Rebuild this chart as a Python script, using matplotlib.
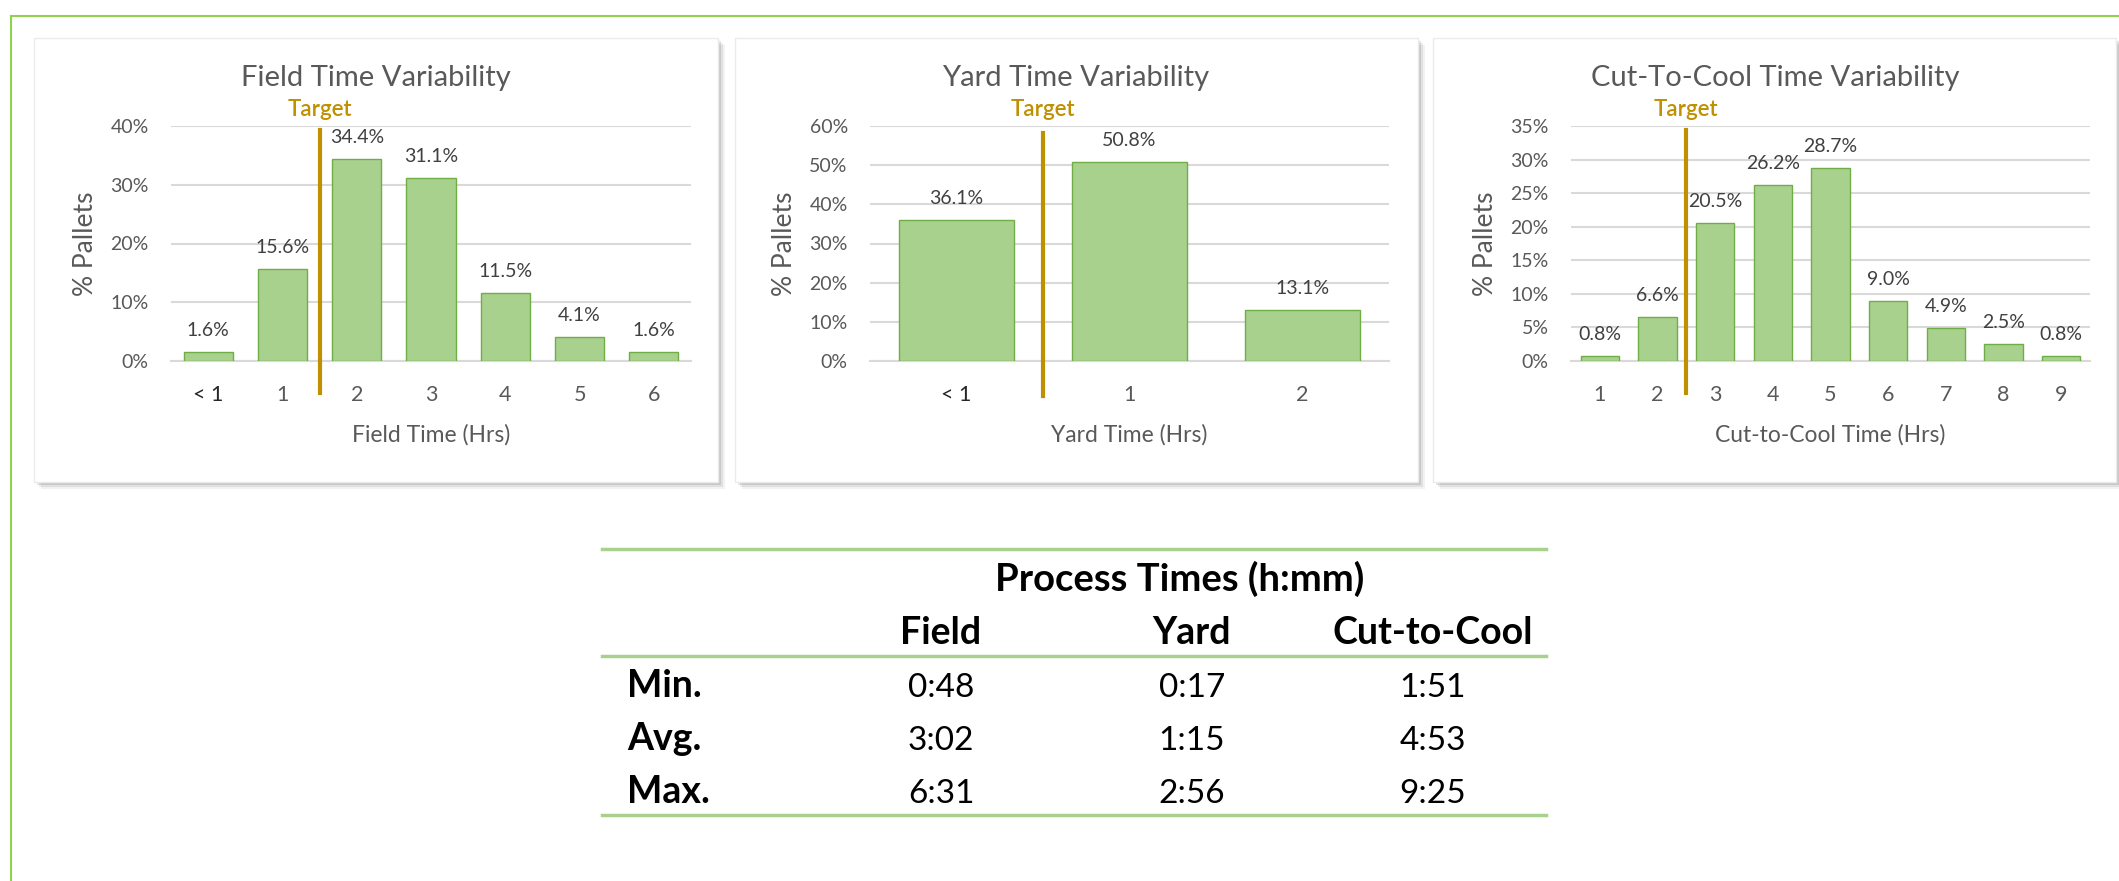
import matplotlib
matplotlib.use('Agg')
import matplotlib.pyplot as plt
from matplotlib.patches import Rectangle
from matplotlib.lines import Line2D

plt.rcParams['font.family'] = ['Lato', 'DejaVu Sans']

# --- data ---
field_cats = ['< 1', '1', '2', '3', '4', '5', '6']
field_pct = [1.6, 15.6, 34.4, 31.1, 11.5, 4.1, 1.6]
field_target = 1.5   # between "1" and "2"

yard_cats = ['< 1', '1', '2']
yard_pct = [36.1, 50.8, 13.1]
yard_target = 0.5

cool_cats = ['1', '2', '3', '4', '5', '6', '7', '8', '9']
cool_pct = [0.8, 6.6, 20.5, 26.2, 28.7, 9.0, 4.9, 2.5, 0.8]
cool_target = 1.5

# process time table (h:mm)
row_names = ['Min.', 'Avg.', 'Max.']
col_names = ['Field', 'Yard', 'Cut-to-Cool']
field_times = ['0:48', '3:02', '6:31']
yard_times = ['0:17', '1:15', '2:56']
cool_times = ['1:51', '4:53', '9:25']

# --- colours ---
BAR = '#A9D18E'
BAR_EDGE = '#70AD47'
TARGET = '#BF9000'
GRID = '#D9D9D9'
TXT = '#595959'
BORDER = '#92D050'

W, H = 2119, 881
fig = plt.figure(figsize=(W / 100, H / 100), dpi=100)
fig.patch.set_facecolor('white')


def fx(x):
    return x / W


def fy(y):
    return 1 - y / H


# green frame round everything (runs off the right / bottom edge)
fig.add_artist(Line2D([fx(11), fx(11)], [fy(16), 0], color=BORDER, lw=1.5))
fig.add_artist(Line2D([fx(11), 1], [fy(16), fy(16)], color=BORDER, lw=1.5))


def panel(x0, x1, y0=38, y1=482):
    # soft drop shadow, then white card
    for d, a in [(7, 0.05), (5, 0.07), (3, 0.10)]:
        fig.add_artist(Rectangle((fx(x0 + d), fy(y1 + d)), fx(x1 - x0), (y1 - y0) / H,
                                 facecolor='black', alpha=a, edgecolor='none', zorder=-5))
    fig.add_artist(Rectangle((fx(x0), fy(y1)), fx(x1 - x0), (y1 - y0) / H,
                             facecolor='white', edgecolor='#EBEBEB', lw=1, zorder=-4))


def chart(ax_x0, ax_x1, cats, pct, top, step, target, t_lo, t_hi, title, title_x, xlabel):
    ax = fig.add_axes([fx(ax_x0), fy(361), fx(ax_x1 - ax_x0), 235 / H])
    ax.set_facecolor('none')
    n = len(cats)
    x = list(range(n))
    ax.bar(x, pct, width=0.66, color=BAR, edgecolor=BAR_EDGE, linewidth=1, zorder=3)
    for i, v in enumerate(pct):
        ax.annotate(f'{v:.1f}%', (i, v), xytext=(0, 11.5), textcoords='offset points',
                    ha='center', va='baseline', fontsize=14, color='#404040', zorder=5)
    ax.set_xlim(-0.5, n - 0.5)
    ax.set_ylim(0, top)
    ticks = list(range(0, top + 1, step))
    ax.set_yticks(ticks)
    ax.set_yticklabels([f'{t}%' for t in ticks])
    ax.set_xticks(x)
    ax.set_xticklabels(cats)
    ax.yaxis.grid(True, color=GRID, lw=1.5)
    ax.set_axisbelow(True)
    for s in ['top', 'right', 'left']:
        ax.spines[s].set_visible(False)
    ax.spines['bottom'].set_color(GRID)
    ax.spines['bottom'].set_linewidth(1.5)
    ax.tick_params(axis='y', length=0, labelsize=14, colors=TXT, pad=16)
    ax.tick_params(axis='x', length=0, labelsize=15.5, colors=TXT, pad=17)
    for lab in ax.get_xticklabels():
        if lab.get_text().startswith('<'):
            lab.set_color('#262626')

    # target marker line sticks out above and below the plot
    ax.axvline(target, ymin=t_lo, ymax=t_hi, color=TARGET, lw=3, clip_on=False, zorder=4)
    ax.text(target, 1.043, 'Target', transform=ax.get_xaxis_transform(), ha='center',
            va='baseline', fontsize=16, color=TARGET, fontweight='semibold')

    ax.set_ylabel('% Pallets', fontsize=19, color=TXT)
    ax.yaxis.set_label_coords(-0.14, 0.5)
    ax.set_xlabel(xlabel, fontsize=16.5, color=TXT)
    ax.xaxis.set_label_coords(0.5, -0.27)
    fig.text(fx(title_x), fy(86), title, ha='center', va='baseline', fontsize=21, color=TXT)
    return ax


panel(34, 718)
panel(735, 1418)
panel(1433, 2116)

chart(171, 691, field_cats, field_pct, 40, 10, field_target, -0.136, 0.983,
      'Field Time Variability', 376, 'Field Time (Hrs)')
chart(870, 1389, yard_cats, yard_pct, 60, 10, yard_target, -0.149, 0.970,
      'Yard Time Variability', 1076, 'Yard Time (Hrs)')
chart(1571, 2090, cool_cats, cool_pct, 35, 5, cool_target, -0.136, 0.983,
      'Cut-To-Cool Time Variability', 1775, 'Cut-to-Cool Time (Hrs)')

# --- summary table under the charts ---
for y in [549, 656, 815]:
    fig.add_artist(Line2D([fx(602), fx(1546)], [fy(y), fy(y)], color=BAR, lw=2.5))

fig.text(fx(1180), fy(591), 'Process Times (h:mm)', ha='center', va='baseline',
         fontsize=27.5, fontweight='bold', color='black')
col_x = [941, 1192, 1433]
for cx, name in zip(col_x, col_names):
    fig.text(fx(cx), fy(644), name, ha='center', va='baseline', fontsize=27,
             fontweight='bold', color='black')

row_y = [697, 750, 803]
columns = [field_times, yard_times, cool_times]
for r, (ry, name) in enumerate(zip(row_y, row_names)):
    fig.text(fx(627), fy(ry), name, ha='left', va='baseline', fontsize=27,
             fontweight='bold', color='black')
    for cx, col in zip(col_x, columns):
        fig.text(fx(cx), fy(ry), col[r], ha='center', va='baseline', fontsize=24, color='black')

fig.savefig('out.png', dpi=100)
